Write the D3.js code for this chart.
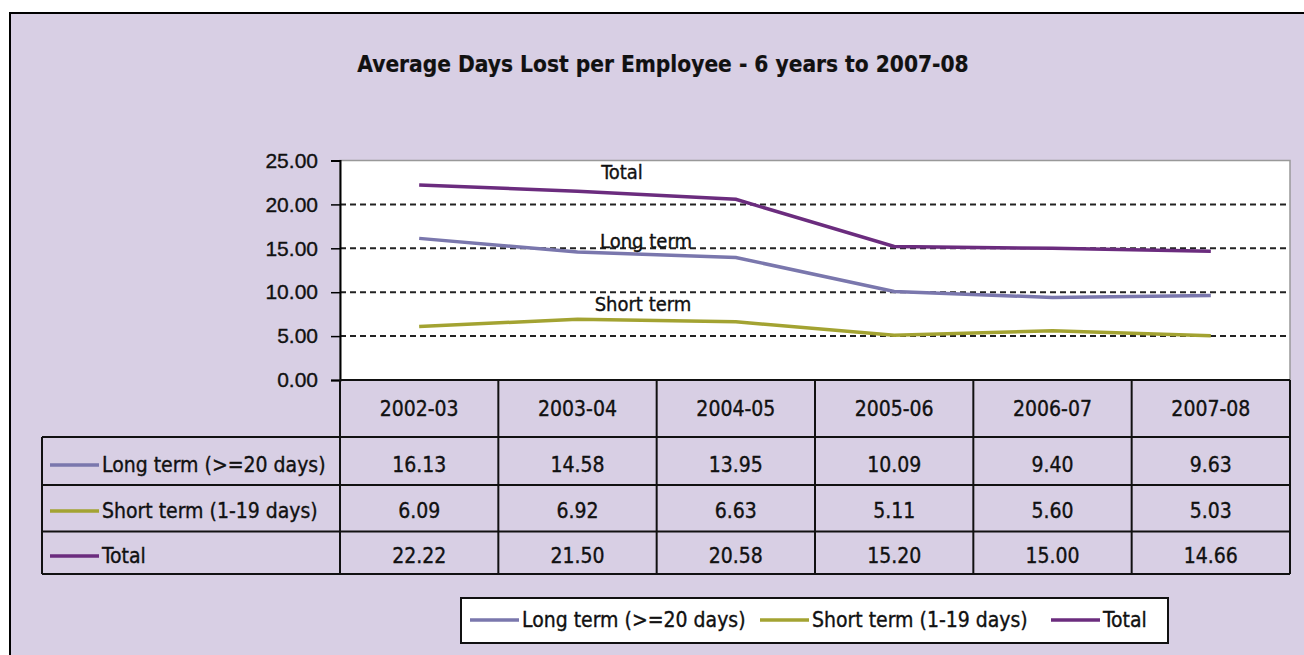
<!DOCTYPE html>
<html>
<head>
<meta charset="utf-8">
<script src="https://cdn.jsdelivr.net/npm/d3@7"></script>
<style>
  html, body { margin: 0; padding: 0; background: #fff; }
  svg { display: block; font-family: "DejaVu Sans Condensed", "DejaVu Sans", sans-serif; font-stretch: condensed; }
  svg text { stroke: #111; stroke-width: 0.35px; }
</style>
</head>
<body>
<div id="chart"></div>
<script>
// data
const years = ["2002-03", "2003-04", "2004-05", "2005-06", "2006-07", "2007-08"];
const longTerm = [16.13, 14.58, 13.95, 10.09, 9.40, 9.63];
const shortTerm = [6.09, 6.92, 6.63, 5.11, 5.60, 5.03];
const total = [22.22, 21.50, 20.58, 15.20, 15.00, 14.66];
const seriesNames = ["Long term (>=20 days)", "Short term (1-19 days)", "Total"];
const shortNames = ["Long term", "Short term", "Total"];
const yTicks = [0, 5, 10, 15, 20, 25];

const series = [
  { name: seriesNames[0], label: shortNames[0], values: longTerm, color: "#7a77ad" },
  { name: seriesNames[1], label: shortNames[1], values: shortTerm, color: "#a3a332" },
  { name: seriesNames[2], label: shortNames[2], values: total, color: "#6b2c7e" }
];

const width = 1304, height = 655;
const bg = "#d8cfe4";

const svg = d3.select("#chart").append("svg")
  .attr("width", width)
  .attr("height", height);

// chart area background + border
svg.append("rect")
  .attr("x", 10).attr("y", 13)
  .attr("width", width + 20).attr("height", height + 20)
  .attr("fill", bg)
  .attr("stroke", "#000")
  .attr("stroke-width", 2);

const plot = { left: 340, right: 1290, top: 160.5, bottom: 380 };

const x = d3.scaleBand().domain(years).range([plot.left, plot.right]);
const y = d3.scaleLinear().domain([0, 25]).range([plot.bottom, plot.top]);

// title
svg.append("text")
  .attr("x", 663).attr("y", 72)
  .attr("text-anchor", "middle")
  .attr("font-size", 22.5)
  .attr("font-weight", "bold")
  .attr("fill", "#111")
  .style("stroke-width", "0.2px")
  .text("Average Days Lost per Employee - 6 years to 2007-08");

// plot background
svg.append("rect")
  .attr("x", plot.left).attr("y", plot.top)
  .attr("width", plot.right - plot.left).attr("height", plot.bottom - plot.top)
  .attr("fill", "#fff")
  .attr("stroke", "#999")
  .attr("stroke-width", 1.5);

// dashed gridlines
svg.append("g").selectAll("line")
  .data(yTicks.filter(d => d > 0 && d < 25))
  .join("line")
  .attr("x1", plot.left).attr("x2", plot.right)
  .attr("y1", d => y(d)).attr("y2", d => y(d))
  .attr("stroke", "#222")
  .attr("stroke-width", 2)
  .attr("stroke-dasharray", "6,4");

// y axis
const yAxis = svg.append("g")
  .attr("transform", `translate(${plot.left},0)`)
  .call(d3.axisLeft(y).tickValues(yTicks).tickFormat(d3.format(".2f")).tickSize(9).tickPadding(13));
yAxis.select(".domain").attr("stroke", "#000").attr("stroke-width", 2);
yAxis.selectAll(".tick line").attr("stroke", "#000").attr("stroke-width", 1.5);
yAxis.selectAll(".tick text")
  .attr("font-size", 21)
  .attr("fill", "#111")
  .attr("font-family", null);

// lines
const line = d3.line()
  .x((d, i) => x(years[i]) + x.bandwidth() / 2)
  .y(d => y(d));

svg.append("g").selectAll("path")
  .data(series)
  .join("path")
  .attr("d", d => line(d.values))
  .attr("fill", "none")
  .attr("stroke", d => d.color)
  .attr("stroke-width", 3.5);

// inline series labels
const inlineLabels = [
  { text: shortNames[2], x: 622, y: 179 },
  { text: shortNames[0], x: 646, y: 248 },
  { text: shortNames[1], x: 643, y: 311 }
];
svg.append("g").selectAll("text")
  .data(inlineLabels)
  .join("text")
  .attr("x", d => d.x).attr("y", d => d.y)
  .attr("text-anchor", "middle")
  .attr("font-size", 20)
  .attr("fill", "#111")
  .text(d => d.text);

// data table
const rowLines = [437, 485, 531.5, 574];
const tableLeft = 42;
const grid = svg.append("g").attr("stroke", "#111").attr("stroke-width", 2);

grid.selectAll("line.h")
  .data(rowLines)
  .join("line")
  .attr("class", "h")
  .attr("x1", tableLeft).attr("x2", plot.right)
  .attr("y1", d => d).attr("y2", d => d);

grid.append("line")
  .attr("x1", plot.left).attr("x2", plot.right)
  .attr("y1", plot.bottom).attr("y2", plot.bottom);

const colEdges = years.map(d => x(d)).concat([plot.right]);
grid.selectAll("line.v")
  .data(colEdges)
  .join("line")
  .attr("class", "v")
  .attr("x1", d => d).attr("x2", d => d)
  .attr("y1", plot.bottom).attr("y2", rowLines[3]);

grid.append("line")
  .attr("x1", tableLeft).attr("x2", tableLeft)
  .attr("y1", rowLines[0]).attr("y2", rowLines[3]);

// header labels
svg.append("g").selectAll("text")
  .data(years)
  .join("text")
  .attr("x", d => x(d) + x.bandwidth() / 2)
  .attr("y", 416)
  .attr("text-anchor", "middle")
  .attr("font-size", 21)
  .attr("fill", "#111")
  .text(d => d);

const rowText = [472, 518, 563];
const fmt = d3.format(".2f");

series.forEach((s, r) => {
  const g = svg.append("g");
  g.append("line")
    .attr("x1", 50).attr("x2", 99)
    .attr("y1", rowText[r] - 7).attr("y2", rowText[r] - 7)
    .attr("stroke", s.color).attr("stroke-width", 3.5);
  g.append("text")
    .attr("x", 102).attr("y", rowText[r])
    .attr("font-size", 21)
    .attr("fill", "#111")
    .text(s.name);
  g.selectAll("text.v")
    .data(s.values)
    .join("text")
    .attr("class", "v")
    .attr("x", (d, i) => x(years[i]) + x.bandwidth() / 2)
    .attr("y", rowText[r])
    .attr("text-anchor", "middle")
    .attr("font-size", 21)
    .attr("fill", "#111")
    .text(d => fmt(d));
});

// legend
const legend = svg.append("g");
legend.append("rect")
  .attr("x", 461).attr("y", 598)
  .attr("width", 707).attr("height", 45)
  .attr("fill", "#fff")
  .attr("stroke", "#111")
  .attr("stroke-width", 2);

const legendX = [470, 760, 1051];
series.forEach((s, i) => {
  legend.append("line")
    .attr("x1", legendX[i]).attr("x2", legendX[i] + 49)
    .attr("y1", 620).attr("y2", 620)
    .attr("stroke", s.color).attr("stroke-width", 3.5);
  legend.append("text")
    .attr("x", legendX[i] + 52).attr("y", 627)
    .attr("font-size", 21)
    .attr("fill", "#111")
    .text(s.name);
});
</script>
</body>
</html>
